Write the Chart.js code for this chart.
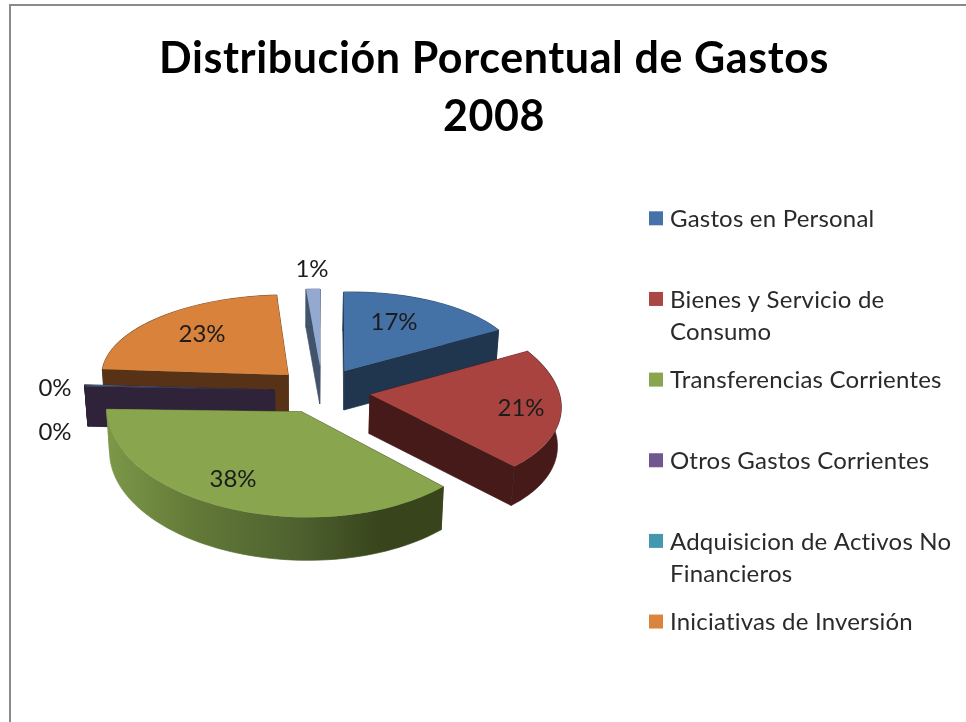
<!DOCTYPE html>
<html><head><meta charset="utf-8">
<style>html,body{margin:0;padding:0;background:#fff}canvas{display:block;filter:blur(0.45px)}</style>
<script src="https://cdn.jsdelivr.net/npm/chart.js@4"></script>
</head><body><canvas id="c" width="966" height="722"></canvas>
<script>
const categories = [
  ["Gastos en Personal"],
  ["Bienes y Servicio de", "Consumo"],
  ["Transferencias Corrientes"],
  ["Otros Gastos Corrientes"],
  ["Adquisicion de Activos No", "Financieros"],
  ["Iniciativas de Inversión"],
  [""]
];
const values = [16.9, 21, 37.8, 0.1, 0.2, 22.8, 1.2];
const titleLines = ["Distribución Porcentual de Gastos", "2008"];
const topColors = ["#4471a6", "#a84340", "#89a54e", "#71588f", "#4198af", "#d9823b", "#93a9cf"];
const legendColors = ["#4572a7", "#aa4643", "#89a54e", "#71588f", "#4198af", "#db843d"];
const wallColors = ["#20364f", "#461a18", null, "#2e2338", "#2e2338", "#573217", "#42536c"];

// Per-slice projection of the tilted, exploded disc (perspective approximated per slice)
const projection = [
  {a:177,  b:-3,   c:1,    d:79,    e:344.5, f:371, depth:39},
  {a:190.5,b:3.8,  c:18.1, d:95.7,  e:370,   f:394.5, depth:39},
  {a:194.8,b:-2.25,c:10.2, d:105.6, e:301.7, f:411.7, depth:43},
  {a:190,  b:0,    c:0,    d:85,    e:274.5, f:390, depth:40},
  {a:190,  b:0,    c:0,    d:85,    e:274.5, f:390, depth:40},
  {a:186.5,b:0.7,  c:-2.4, d:80.2,  e:288.3, f:375, depth:40},
  {a:186,  b:0,    c:0,    d:77,    e:320,   f:366, depth:38}
];
const drawOrder = [6, 0, 5, 4, 3, 1, 2];
const labelSpots = [[394,322],[521,408],[233,479],[55,432],[55,388],[202,334],[312,269]];
const FONT = "Lato, Carlito, Calibri, sans-serif";

function project(p, ang){ const u=Math.cos(ang), v=Math.sin(ang);
  return [p.e+p.a*u+p.c*v, p.f+p.b*u+p.d*v]; }
function sink(pt, p){ return [300+(pt[0]-300)*0.985, pt[1]+p.depth]; }

const tilted3D = {
  id:'tilted3D',
  beforeDraw(chart){ chart.ctx.letterSpacing = "0.6px"; },
  beforeDatasetsDraw(chart){
    const ctx = chart.ctx, arcs = chart.getDatasetMeta(0).data;
    ctx.letterSpacing = "0px";
    drawOrder.forEach(i=>{
      const arc = arcs[i], p = projection[i], R = arc.outerRadius;
      // side walls
      let fill = wallColors[i];
      if(!fill){
        const g = ctx.createLinearGradient(110,0,380,0);
        g.addColorStop(0,"#7b9748"); g.addColorStop(0.3,"#647a38");
        g.addColorStop(0.67,"#4f6330"); g.addColorStop(1,"#38451c");
        fill = g;
      }
      ctx.save();
      ctx.fillStyle = fill; ctx.strokeStyle = fill; ctx.lineWidth = 0.7; ctx.lineJoin = "round";
      const N = 60, tops=[];
      for(let k=0;k<=N;k++) tops.push(project(p, arc.startAngle+(arc.endAngle-arc.startAngle)*k/N));
      const apex=[p.e,p.f];
      const quad=(A,B)=>{const a2=sink(A,p),b2=sink(B,p);ctx.beginPath();ctx.moveTo(A[0],A[1]);ctx.lineTo(B[0],B[1]);ctx.lineTo(b2[0],b2[1]);ctx.lineTo(a2[0],a2[1]);ctx.closePath();ctx.fill();ctx.stroke();};
      quad(apex,tops[0]); quad(apex,tops[N]);
      ctx.beginPath();
      tops.forEach((t,k)=>k?ctx.lineTo(t[0],t[1]):ctx.moveTo(t[0],t[1]));
      for(let k=N;k>=0;k--){const s=sink(tops[k],p);ctx.lineTo(s[0],s[1]);}
      ctx.closePath();ctx.fill();ctx.stroke();
      ctx.restore();
      // top face: the library's own arc element
      ctx.save();
      ctx.transform(p.a/R,p.b/R,p.c/R,p.d/R,p.e,p.f);
      ctx.translate(-arc.x,-arc.y);
      arc.draw(ctx);
      ctx.restore();
    });
    return false;
  },
  afterDraw(chart){
    const ctx = chart.ctx;
    ctx.save();
    // frame
    ctx.strokeStyle="#8a8a8a"; ctx.lineWidth=2;
    ctx.beginPath(); ctx.moveTo(10,722); ctx.lineTo(10,5); ctx.lineTo(966,5); ctx.stroke();
    // percentage labels
    ctx.letterSpacing="0px";
    ctx.fillStyle="#1c1c1c"; ctx.textAlign="center"; ctx.textBaseline="middle";
    ctx.font="24px "+FONT;
    values.forEach((v,i)=>ctx.fillText(Math.round(v)+"%",labelSpots[i][0],labelSpots[i][1]));
    // legend
    ctx.letterSpacing="0.2px";
    ctx.textAlign="left"; ctx.font="24px "+FONT;
    legendColors.forEach((col,i)=>{
      const cy = 218.3+80.65*i;
      ctx.fillStyle=col; ctx.fillRect(649,cy-7,14,14);
      ctx.fillStyle="#2a2a2a";
      categories[i].forEach((line,l)=>ctx.fillText(line,670,cy+1+l*32));
    });
    ctx.restore();
  }
};

new Chart(document.getElementById('c'),{
  type:'pie',
  data:{labels:categories.map(l=>l.join(' ')),datasets:[{data:values,backgroundColor:topColors,borderWidth:0,hoverOffset:0}]},
  options:{
    responsive:false,animation:false,
    layout:{padding:{left:22,top:30,bottom:100,right:0}},
    plugins:{
      legend:{display:false},tooltip:{enabled:false},
      title:{display:true,text:titleLines,color:"#000",font:{family:FONT,size:43,weight:'bold',lineHeight:1.35},padding:0}
    }
  },
  plugins:[tilted3D]
});
</script></body></html>
